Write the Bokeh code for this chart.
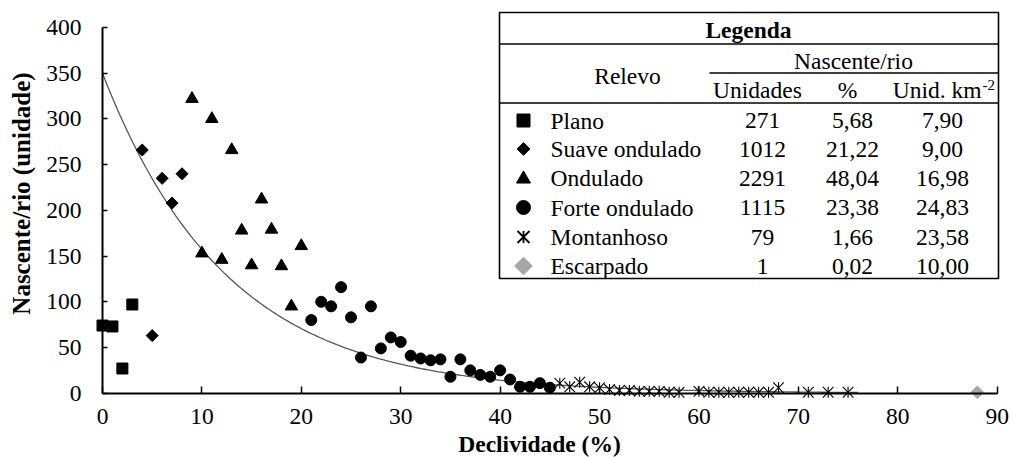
import numpy as np
from bokeh.plotting import figure
from bokeh.models import Range1d, FixedTicker, ColumnDataSource
from bokeh.core.properties import value
from bokeh.embed import file_html
from bokeh.resources import INLINE

# ---------------- data ----------------
plano_x = [0, 1, 2, 3]
plano_y = [74, 73, 27, 97]

suave_x = [4, 5, 6, 7, 8]
suave_y = [266, 63, 235, 208, 240]

ondulado_x = [9, 10, 11, 12, 13, 14, 15, 16, 17, 18, 19, 20]
ondulado_y = [322, 153, 300, 146, 266, 178, 140, 212, 179, 139, 95, 161]

forte_x = [21, 22, 23, 24, 25, 26, 27, 28, 29, 30, 31, 32, 33, 34, 35,
           36, 37, 38, 39, 40, 41, 42, 43, 44, 45]
forte_y = [80, 100, 95, 116, 83, 39, 95, 49, 61, 56, 41, 38, 36, 37, 18,
           37, 25, 20, 18, 25, 15, 7, 7, 11, 6]

montanhoso_x = [46, 47, 48, 49, 50, 51, 52, 53, 54, 55, 56, 57, 58,
                60, 61, 62, 63, 64, 65, 66, 67, 68, 71, 73, 75]
montanhoso_y = [11, 7, 12, 7, 6, 4, 3, 3, 2, 2, 2, 1, 1,
                2, 1, 1, 1, 1, 1, 1, 1, 6, 1, 1, 1]

escarpado_x = [88]
escarpado_y = [1]

# exponential trend line y = a * exp(-b x)
trend_a = 350.0
trend_b = 0.08
trend_xmax = 76

x_ticks = [0, 10, 20, 30, 40, 50, 60, 70, 80, 90]
y_ticks = [0, 50, 100, 150, 200, 250, 300, 350, 400]

relevo = ["Plano", "Suave ondulado", "Ondulado", "Forte ondulado", "Montanhoso", "Escarpado"]
unidades = ["271", "1012", "2291", "1115", "79", "1"]
percentual = ["5,68", "21,22", "48,04", "23,38", "1,66", "0,02"]
densidade = ["7,90", "9,00", "16,98", "24,83", "23,58", "10,00"]

# ---------------- layout ----------------
FONT = "Liberation Serif"
FIG_W, FIG_H = 1010, 457
X0, PXU = 102.0, 9.941      # page px of x=0, px per unit
Y0, PYU = 392.7, 0.9143     # page px of y=0, px per unit


def X(px):
    return (px - X0) / PXU


def Y(py):
    return (Y0 - py) / PYU


p = figure(width=FIG_W, height=FIG_H,
           x_range=Range1d(X(0), X(FIG_W)), y_range=Range1d(Y(FIG_H), Y(0)),
           output_backend="svg", toolbar_location=None)
p.min_border = 0
p.min_border_left = p.min_border_right = p.min_border_top = p.min_border_bottom = 0
p.outline_line_color = None
p.grid.visible = False
p.background_fill_color = "white"
p.border_fill_color = "white"

# real axes, pinned at x=0 / y=0
p.xaxis.fixed_location = 0
p.yaxis.fixed_location = 0
p.xaxis.bounds = (x_ticks[0], x_ticks[-1])
p.yaxis.bounds = (y_ticks[0], y_ticks[-1])
for ax, ticks in ((p.xaxis, x_ticks), (p.yaxis, y_ticks)):
    ax.ticker = FixedTicker(ticks=ticks)
    ax.axis_line_color = "black"
    ax.axis_line_width = 2
    ax.major_tick_line_color = "black"
    ax.major_tick_line_width = 1.5
    ax.minor_tick_line_color = None
    ax.major_tick_out = 0
    ax.major_label_text_font = FONT
    ax.major_label_text_font_size = "23.5px"
    ax.major_label_text_color = "black"
p.xaxis.major_tick_in = 7
p.yaxis.major_tick_in = 5
p.xaxis.major_label_standoff = 16
p.yaxis.major_label_standoff = 21

# trend line
tx = np.linspace(0, trend_xmax, 300)
p.line(tx, trend_a * np.exp(-trend_b * tx), line_color="#555555", line_width=1.3)

# series
p.scatter(plano_x, plano_y, marker="square", size=11, fill_color="black", line_color="black")
p.scatter(suave_x, suave_y, marker="square", angle=np.pi / 4, size=8.5, fill_color="black", line_color="black")
p.scatter(ondulado_x, ondulado_y, marker="triangle", size=12.5, fill_color="black", line_color="black")
p.scatter(forte_x, forte_y, marker="circle", size=11, fill_color="black", line_color="black")
p.scatter(montanhoso_x, montanhoso_y, marker="x", size=15, line_color="black", line_width=1.1)
p.scatter(montanhoso_x, montanhoso_y, marker="dash", angle=np.pi / 2, size=11, line_color="black", line_width=1.1)
p.scatter(escarpado_x, escarpado_y, marker="square", angle=np.pi / 4, size=9, fill_color="#a6a6a6", line_color="#a6a6a6")


def txt(px, py, s, align="center", size="23.5px", style="normal", angle=0.0):
    p.text(x=[X(px)], y=[Y(py)], text=[s], text_font=value(FONT), text_font_size=value(size),
           text_font_style=style, text_align=align, text_baseline="middle", text_color="black",
           angle=angle)


# axis titles
txt(539, 443, "Declividade (%)", style="bold", size="23.5px")
txt(21, 193, "Nascente/rio (unidade)", style="bold", size="25px", angle=np.pi / 2)

# ---------------- legend table ----------------
TL, TR, TT, TB = 499, 998, 12, 278
p.quad(left=[X(TL)], right=[X(TR)], top=[Y(TT)], bottom=[Y(TB)],
       fill_color=None, line_color="black", line_width=1.6)
p.segment(x0=[X(TL), X(709), X(TL)], y0=[Y(43.5), Y(72.5), Y(102.5)],
          x1=[X(TR), X(TR), X(TR)], y1=[Y(43.5), Y(72.5), Y(102.5)],
          line_color="black", line_width=1.4)

txt(748, 29, "Legenda", style="bold")
txt(853, 60, "Nascente/rio")
txt(627, 75, "Relevo")
txt(757, 89.5, "Unidades")
txt(847, 89.5, "%")
txt(981, 89.5, "Unid. km", align="right")
txt(982, 84, "-2", align="left", size="15px")

row_y = [120, 148.5, 177.5, 207, 236.5, 265.5]
src = ColumnDataSource(dict(
    x_lab=[X(550)] * 6, x_u=[X(762)] * 6, x_p=[X(852)] * 6, x_d=[X(942)] * 6,
    y=[Y(v) for v in row_y], relevo=relevo, unidades=unidades, pct=percentual, dens=densidade))
for col, xcol, al in (("relevo", "x_lab", "left"), ("unidades", "x_u", "center"),
                      ("pct", "x_p", "center"), ("dens", "x_d", "center")):
    p.text(x=xcol, y="y", text=col, source=src, text_font=value(FONT), text_font_size=value("23.5px"),
           text_align=al, text_baseline="middle", text_color="black")

mx = X(523)
p.scatter([mx], [Y(row_y[0])], marker="square", size=13, fill_color="black", line_color="black")
p.scatter([mx], [Y(row_y[1])], marker="square", angle=np.pi / 4, size=9, fill_color="black", line_color="black")
p.scatter([mx], [Y(row_y[2] + 1)], marker="triangle", size=14, fill_color="black", line_color="black")
p.scatter([mx], [Y(row_y[3])], marker="circle", size=14, fill_color="black", line_color="black")
p.scatter([mx], [Y(row_y[4])], marker="x", size=17, line_color="black", line_width=1.8)
p.scatter([mx], [Y(row_y[4])], marker="dash", angle=np.pi / 2, size=12, line_color="black", line_width=1.8)
p.scatter([mx], [Y(row_y[5])], marker="square", angle=np.pi / 4, size=12.5, fill_color="#a6a6a6", line_color="#a6a6a6")

open("out.html", "w").write(file_html(p, INLINE))
